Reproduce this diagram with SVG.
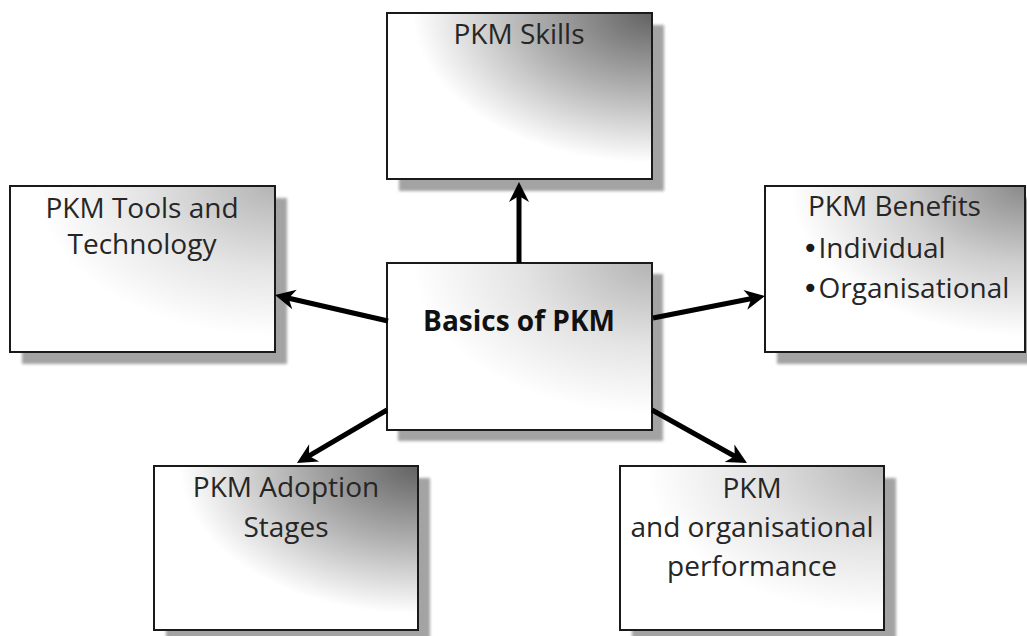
<svg xmlns="http://www.w3.org/2000/svg" width="1027" height="636" viewBox="0 0 1027 636">
<style>
.box{stroke:#1a1a1a;stroke-width:2}
.shadow{fill:#a3a3a3}
.t{font-family:"Open Sans","Noto Sans",sans-serif;font-size:28px;fill:#262626}
.c{text-anchor:middle}
.b{font-weight:bold;fill:#111}
.bul{font-family:"DejaVu Sans",sans-serif;fill:#1a1a1a}
.conn line{stroke:#000;stroke-width:5}
</style>
<defs>
<filter id="blur" x="-10%" y="-10%" width="120%" height="120%"><feGaussianBlur stdDeviation="1.5"/></filter>
<radialGradient id="gDark" cx="1" cy="0" r="1.1">
<stop offset="0" stop-color="#626262"/><stop offset="0.42" stop-color="#b0b0b0"/><stop offset="0.82" stop-color="#fff"/>
</radialGradient>
<radialGradient id="gMid" cx="1" cy="0" r="1.1">
<stop offset="0" stop-color="#8a8a8a"/><stop offset="0.42" stop-color="#cfcfcf"/><stop offset="0.82" stop-color="#fff"/>
</radialGradient>
<radialGradient id="gLight" cx="1" cy="0" r="1.1">
<stop offset="0" stop-color="#b4b4b4"/><stop offset="0.45" stop-color="#e4e4e4"/><stop offset="0.82" stop-color="#fff"/>
</radialGradient>
<marker id="ah" markerUnits="userSpaceOnUse" viewBox="-10 -10 23 22" refX="0" refY="0" markerWidth="23" markerHeight="22" orient="auto" overflow="visible">
<path d="M12,0 L-8,-10 L-2,0 L-8,10 Z" fill="#000"/>
</marker>
</defs>

<g id="skills">
<rect class="shadow" x="399" y="25" width="265" height="166" filter="url(#blur)"/>
<rect class="box" x="387" y="13" width="265" height="166" fill="url(#gDark)"/>
<text class="t c" x="519" y="44">PKM Skills</text>
</g>

<g id="tools">
<rect class="shadow" x="22" y="198" width="265" height="166" filter="url(#blur)"/>
<rect class="box" x="10" y="186" width="265" height="166" fill="url(#gLight)"/>
<text class="t c" x="142" y="218">PKM Tools and</text>
<text class="t c" x="142" y="254">Technology</text>
</g>

<g id="benefits">
<rect class="shadow" x="777" y="198" width="262" height="166" filter="url(#blur)"/>
<rect class="box" x="765" y="186" width="260" height="166" fill="url(#gMid)"/>
<text class="t" x="808" y="216">PKM Benefits</text>
<text class="t" x="802" y="258"><tspan class="bul">•</tspan>Individual</text>
<text class="t" x="802" y="298"><tspan class="bul">•</tspan>Organisational</text>
</g>

<g id="basics">
<rect class="shadow" x="398" y="274" width="265" height="167" filter="url(#blur)"/>
<rect class="box" x="387" y="263" width="265" height="167" fill="url(#gLight)"/>
<text class="t c b" x="519" y="331">Basics of PKM</text>
</g>

<g id="adoption">
<rect class="shadow" x="166" y="478" width="264" height="164" filter="url(#blur)"/>
<rect class="box" x="154" y="466" width="264" height="164" fill="url(#gDark)"/>
<text class="t c" x="286" y="497">PKM Adoption</text>
<text class="t c" x="286" y="537">Stages</text>
</g>

<g id="performance">
<rect class="shadow" x="632" y="478" width="264" height="164" filter="url(#blur)"/>
<rect class="box" x="620" y="466" width="264" height="164" fill="url(#gLight)"/>
<text class="t c" x="752" y="498">PKM</text>
<text class="t c" x="752" y="537">and organisational</text>
<text class="t c" x="752" y="576">performance</text>
</g>

<g id="connectors" class="conn">
<line x1="519" y1="263" x2="519" y2="194" marker-end="url(#ah)"/>
<line x1="388" y1="321" x2="286.7" y2="297.7" marker-end="url(#ah)"/>
<line x1="653" y1="318" x2="753.2" y2="298.3" marker-end="url(#ah)"/>
<line x1="387" y1="410" x2="307.3" y2="456.9" marker-end="url(#ah)"/>
<line x1="652" y1="410" x2="736.5" y2="457.2" marker-end="url(#ah)"/>
</g>
</svg>
